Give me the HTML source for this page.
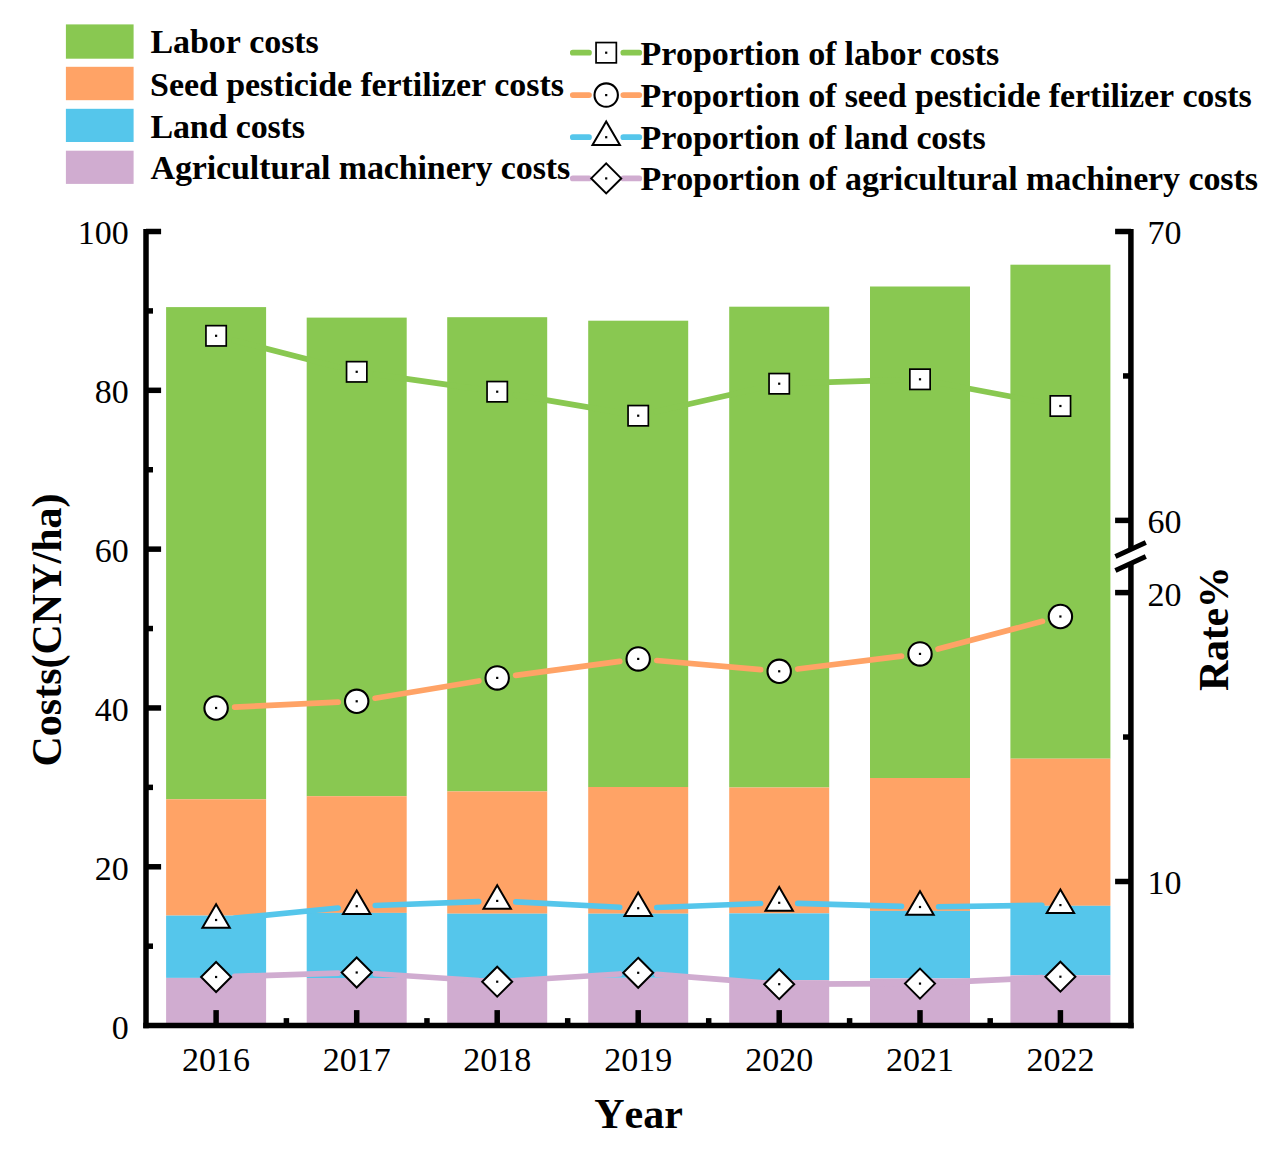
<!DOCTYPE html><html><head><meta charset="utf-8"><style>html,body{margin:0;padding:0;background:#fff;overflow:hidden;}svg{display:block;}text{font-family:"Liberation Serif",serif;font-kerning:none;}</style></head><body>
<svg width="1282" height="1157" viewBox="0 0 1282 1157">
<rect width="1282" height="1157" fill="#fff"/>
<rect x="166.10" y="307.10" width="100" height="492.20" fill="#89C851"/>
<rect x="166.10" y="799.30" width="100" height="116.30" fill="#FFA366"/>
<rect x="166.10" y="915.60" width="100" height="62.30" fill="#55C6EB"/>
<rect x="166.10" y="977.90" width="100" height="47.70" fill="#D0ACD0"/>
<rect x="306.70" y="317.60" width="100" height="478.60" fill="#89C851"/>
<rect x="306.70" y="796.20" width="100" height="116.70" fill="#FFA366"/>
<rect x="306.70" y="912.90" width="100" height="65.10" fill="#55C6EB"/>
<rect x="306.70" y="978.00" width="100" height="47.60" fill="#D0ACD0"/>
<rect x="447.20" y="317.20" width="100" height="474.20" fill="#89C851"/>
<rect x="447.20" y="791.40" width="100" height="122.30" fill="#FFA366"/>
<rect x="447.20" y="913.70" width="100" height="64.30" fill="#55C6EB"/>
<rect x="447.20" y="978.00" width="100" height="47.60" fill="#D0ACD0"/>
<rect x="588.20" y="320.70" width="100" height="466.30" fill="#89C851"/>
<rect x="588.20" y="787.00" width="100" height="126.70" fill="#FFA366"/>
<rect x="588.20" y="913.70" width="100" height="64.10" fill="#55C6EB"/>
<rect x="588.20" y="977.80" width="100" height="47.80" fill="#D0ACD0"/>
<rect x="729.20" y="306.70" width="100" height="480.80" fill="#89C851"/>
<rect x="729.20" y="787.50" width="100" height="125.90" fill="#FFA366"/>
<rect x="729.20" y="913.40" width="100" height="66.70" fill="#55C6EB"/>
<rect x="729.20" y="980.10" width="100" height="45.50" fill="#D0ACD0"/>
<rect x="870.00" y="286.50" width="100" height="491.50" fill="#89C851"/>
<rect x="870.00" y="778.00" width="100" height="132.90" fill="#FFA366"/>
<rect x="870.00" y="910.90" width="100" height="67.50" fill="#55C6EB"/>
<rect x="870.00" y="978.40" width="100" height="47.20" fill="#D0ACD0"/>
<rect x="1010.40" y="264.70" width="100" height="494.00" fill="#89C851"/>
<rect x="1010.40" y="758.70" width="100" height="147.10" fill="#FFA366"/>
<rect x="1010.40" y="905.80" width="100" height="69.50" fill="#55C6EB"/>
<rect x="1010.40" y="975.30" width="100" height="50.30" fill="#D0ACD0"/>
<path d="M234.12 340.41L338.68 367.19M375.12 374.41L478.78 389.09M515.54 394.82L619.86 412.58M656.34 411.58L761.06 387.82M797.79 383.12L901.41 379.88M938.27 382.77L1042.13 402.53" stroke="#89C851" stroke-width="5.7" stroke-linecap="round" fill="none"/>
<path d="M234.68 707.11L338.12 702.19M375.05 698.24L478.85 680.96M515.63 675.42L619.77 661.38M656.73 660.53L760.67 669.67M797.66 669.02L901.54 656.18M937.97 649.11L1042.43 621.29" stroke="#FFA366" stroke-width="5.7" stroke-linecap="round" fill="none"/>
<path d="M234.61 918.18L338.19 908.02M375.29 905.50L478.61 901.60M515.78 901.86L619.62 907.24M656.79 907.49L760.61 903.51M797.79 903.35L901.41 906.45M938.60 906.75L1041.80 905.35" stroke="#55C6EB" stroke-width="5.7" stroke-linecap="round" fill="none"/>
<path d="M234.69 976.40L338.11 973.10M375.26 973.72L478.64 980.48M515.76 980.53L619.64 973.97M656.74 974.30L760.66 982.70M797.80 984.12L901.40 983.68M938.58 982.69L1041.82 977.61" stroke="#D0ACD0" stroke-width="5.7" stroke-linecap="round" fill="none"/>
<rect x="205.95" y="325.65" width="20.3" height="20.3" fill="#fff" stroke="#000" stroke-width="1.7"/>
<rect x="215.00" y="334.70" width="2.2" height="2.2" fill="#000"/>
<rect x="346.55" y="361.65" width="20.3" height="20.3" fill="#fff" stroke="#000" stroke-width="1.7"/>
<rect x="355.60" y="370.70" width="2.2" height="2.2" fill="#000"/>
<rect x="487.05" y="381.55" width="20.3" height="20.3" fill="#fff" stroke="#000" stroke-width="1.7"/>
<rect x="496.10" y="390.60" width="2.2" height="2.2" fill="#000"/>
<rect x="628.05" y="405.55" width="20.3" height="20.3" fill="#fff" stroke="#000" stroke-width="1.7"/>
<rect x="637.10" y="414.60" width="2.2" height="2.2" fill="#000"/>
<rect x="769.05" y="373.55" width="20.3" height="20.3" fill="#fff" stroke="#000" stroke-width="1.7"/>
<rect x="778.10" y="382.60" width="2.2" height="2.2" fill="#000"/>
<rect x="909.85" y="369.15" width="20.3" height="20.3" fill="#fff" stroke="#000" stroke-width="1.7"/>
<rect x="918.90" y="378.20" width="2.2" height="2.2" fill="#000"/>
<rect x="1050.25" y="395.85" width="20.3" height="20.3" fill="#fff" stroke="#000" stroke-width="1.7"/>
<rect x="1059.30" y="404.90" width="2.2" height="2.2" fill="#000"/>
<circle cx="216.10" cy="708.00" r="11.7" fill="#fff" stroke="#000" stroke-width="2.1"/>
<rect x="215.00" y="706.90" width="2.2" height="2.2" fill="#000"/>
<circle cx="356.70" cy="701.30" r="11.7" fill="#fff" stroke="#000" stroke-width="2.1"/>
<rect x="355.60" y="700.20" width="2.2" height="2.2" fill="#000"/>
<circle cx="497.20" cy="677.90" r="11.7" fill="#fff" stroke="#000" stroke-width="2.1"/>
<rect x="496.10" y="676.80" width="2.2" height="2.2" fill="#000"/>
<circle cx="638.20" cy="658.90" r="11.7" fill="#fff" stroke="#000" stroke-width="2.1"/>
<rect x="637.10" y="657.80" width="2.2" height="2.2" fill="#000"/>
<circle cx="779.20" cy="671.30" r="11.7" fill="#fff" stroke="#000" stroke-width="2.1"/>
<rect x="778.10" y="670.20" width="2.2" height="2.2" fill="#000"/>
<circle cx="920.00" cy="653.90" r="11.7" fill="#fff" stroke="#000" stroke-width="2.1"/>
<rect x="918.90" y="652.80" width="2.2" height="2.2" fill="#000"/>
<circle cx="1060.40" cy="616.50" r="11.7" fill="#fff" stroke="#000" stroke-width="2.1"/>
<rect x="1059.30" y="615.40" width="2.2" height="2.2" fill="#000"/>
<path d="M216.10 904.30L229.80 927.85L202.40 927.85Z" fill="#fff" stroke="#000" stroke-width="2"/>
<rect x="215.00" y="918.90" width="2.2" height="2.2" fill="#000"/>
<path d="M356.70 890.50L370.40 914.05L343.00 914.05Z" fill="#fff" stroke="#000" stroke-width="2"/>
<rect x="355.60" y="905.10" width="2.2" height="2.2" fill="#000"/>
<path d="M497.20 885.20L510.90 908.75L483.50 908.75Z" fill="#fff" stroke="#000" stroke-width="2"/>
<rect x="496.10" y="899.80" width="2.2" height="2.2" fill="#000"/>
<path d="M638.20 892.50L651.90 916.05L624.50 916.05Z" fill="#fff" stroke="#000" stroke-width="2"/>
<rect x="637.10" y="907.10" width="2.2" height="2.2" fill="#000"/>
<path d="M779.20 887.10L792.90 910.65L765.50 910.65Z" fill="#fff" stroke="#000" stroke-width="2"/>
<rect x="778.10" y="901.70" width="2.2" height="2.2" fill="#000"/>
<path d="M920.00 891.30L933.70 914.85L906.30 914.85Z" fill="#fff" stroke="#000" stroke-width="2"/>
<rect x="918.90" y="905.90" width="2.2" height="2.2" fill="#000"/>
<path d="M1060.40 889.40L1074.10 912.95L1046.70 912.95Z" fill="#fff" stroke="#000" stroke-width="2"/>
<rect x="1059.30" y="904.00" width="2.2" height="2.2" fill="#000"/>
<path d="M216.10 962.00L231.10 977.00L216.10 992.00L201.10 977.00Z" fill="#fff" stroke="#000" stroke-width="2"/>
<rect x="215.00" y="975.90" width="2.2" height="2.2" fill="#000"/>
<path d="M356.70 957.50L371.70 972.50L356.70 987.50L341.70 972.50Z" fill="#fff" stroke="#000" stroke-width="2"/>
<rect x="355.60" y="971.40" width="2.2" height="2.2" fill="#000"/>
<path d="M497.20 966.70L512.20 981.70L497.20 996.70L482.20 981.70Z" fill="#fff" stroke="#000" stroke-width="2"/>
<rect x="496.10" y="980.60" width="2.2" height="2.2" fill="#000"/>
<path d="M638.20 957.80L653.20 972.80L638.20 987.80L623.20 972.80Z" fill="#fff" stroke="#000" stroke-width="2"/>
<rect x="637.10" y="971.70" width="2.2" height="2.2" fill="#000"/>
<path d="M779.20 969.20L794.20 984.20L779.20 999.20L764.20 984.20Z" fill="#fff" stroke="#000" stroke-width="2"/>
<rect x="778.10" y="983.10" width="2.2" height="2.2" fill="#000"/>
<path d="M920.00 968.60L935.00 983.60L920.00 998.60L905.00 983.60Z" fill="#fff" stroke="#000" stroke-width="2"/>
<rect x="918.90" y="982.50" width="2.2" height="2.2" fill="#000"/>
<path d="M1060.40 961.70L1075.40 976.70L1060.40 991.70L1045.40 976.70Z" fill="#fff" stroke="#000" stroke-width="2"/>
<rect x="1059.30" y="975.60" width="2.2" height="2.2" fill="#000"/>
<g stroke="#000" stroke-width="5.5" fill="none" stroke-linecap="butt">
<path d="M146.0 229.0V1028.35"/>
<path d="M143.25 1025.6H1133.65"/>
<path d="M1130.9 229.0V550M1130.9 562V1028.35"/>
<path d="M146.0 946.19H153.0"/>
<path d="M146.0 866.78H161.1"/>
<path d="M146.0 787.37H153.0"/>
<path d="M146.0 707.96H161.1"/>
<path d="M146.0 628.55H153.0"/>
<path d="M146.0 549.14H161.1"/>
<path d="M146.0 469.73H153.0"/>
<path d="M146.0 390.32H161.1"/>
<path d="M146.0 310.91H153.0"/>
<path d="M146.0 231.50H161.1"/>
<path d="M1130.9 231.50H1115.1"/>
<path d="M1130.9 375.95H1123.0"/>
<path d="M1130.9 520.40H1115.1"/>
<path d="M1130.9 592.60H1115.1"/>
<path d="M1130.9 737.05H1123.0"/>
<path d="M1130.9 881.50H1115.1"/>
<path d="M216.10 1025.6V1010.1"/>
<path d="M286.40 1025.6V1018.1"/>
<path d="M356.70 1025.6V1010.1"/>
<path d="M426.95 1025.6V1018.1"/>
<path d="M497.20 1025.6V1010.1"/>
<path d="M567.70 1025.6V1018.1"/>
<path d="M638.20 1025.6V1010.1"/>
<path d="M708.70 1025.6V1018.1"/>
<path d="M779.20 1025.6V1010.1"/>
<path d="M849.60 1025.6V1018.1"/>
<path d="M920.00 1025.6V1010.1"/>
<path d="M990.20 1025.6V1018.1"/>
<path d="M1060.40 1025.6V1010.1"/>
<path d="M1115.4 556.5L1145.8 542.6M1115.4 570.5L1145.8 556.5" stroke-width="5"/>
</g>
<g font-size="34" fill="#000">
<text x="128.8" y="1038.50" text-anchor="end">0</text>
<text x="128.8" y="879.68" text-anchor="end">20</text>
<text x="128.8" y="720.86" text-anchor="end">40</text>
<text x="128.8" y="562.04" text-anchor="end">60</text>
<text x="128.8" y="403.22" text-anchor="end">80</text>
<text x="128.8" y="244.40" text-anchor="end">100</text>
<text x="1147.5" y="244.40">70</text>
<text x="1147.5" y="533.30">60</text>
<text x="1147.5" y="605.50">20</text>
<text x="1147.5" y="894.40">10</text>
<text x="216.10" y="1070.7" text-anchor="middle">2016</text>
<text x="356.70" y="1070.7" text-anchor="middle">2017</text>
<text x="497.20" y="1070.7" text-anchor="middle">2018</text>
<text x="638.20" y="1070.7" text-anchor="middle">2019</text>
<text x="779.20" y="1070.7" text-anchor="middle">2020</text>
<text x="920.00" y="1070.7" text-anchor="middle">2021</text>
<text x="1060.40" y="1070.7" text-anchor="middle">2022</text>
</g>
<text x="638.5" y="1127.8" text-anchor="middle" font-size="42" font-weight="bold">Year</text>
<text transform="translate(61.1 630) rotate(-90)" text-anchor="middle" font-size="42" font-weight="bold">Costs(CNY/ha)</text>
<text transform="translate(1227.7 628.6) rotate(-90)" text-anchor="middle" font-size="42" font-weight="bold" textLength="124.6">Rate%</text>
<g font-size="34" font-weight="bold" fill="#000">
<rect x="65.9" y="24.4" width="67.7" height="34.3" fill="#89C851"/>
<text x="150.5" y="53.3" textLength="168.3">Labor costs</text>
<rect x="65.9" y="66.8" width="67.7" height="33.4" fill="#FFA366"/>
<text x="150.1" y="95.5" textLength="413.8">Seed pesticide fertilizer costs</text>
<rect x="65.9" y="108.8" width="67.7" height="33.2" fill="#55C6EB"/>
<text x="150.5" y="137.6" textLength="154.5">Land costs</text>
<rect x="65.9" y="150.7" width="67.7" height="33.2" fill="#D0ACD0"/>
<text x="150.5" y="179.1" textLength="419.7">Agricultural machinery costs</text>
<path d="M572.8 52.7H589M623.3 52.7H639.3" stroke="#89C851" stroke-width="5.7" stroke-linecap="round"/>
<rect x="596.05" y="42.55" width="20.3" height="20.3" fill="#fff" stroke="#000" stroke-width="1.7"/>
<rect x="605.10" y="51.60" width="2.2" height="2.2" fill="#000"/>
<text x="640.5" y="64.9" textLength="358.7">Proportion of labor costs</text>
<path d="M572.8 95.1H589M623.3 95.1H639.3" stroke="#FFA366" stroke-width="5.7" stroke-linecap="round"/>
<circle cx="606.20" cy="95.10" r="11.7" fill="#fff" stroke="#000" stroke-width="2.1"/>
<rect x="605.10" y="94.00" width="2.2" height="2.2" fill="#000"/>
<text x="640.5" y="107.0" textLength="611.3">Proportion of seed pesticide fertilizer costs</text>
<path d="M572.8 137.2H589M623.3 137.2H639.3" stroke="#55C6EB" stroke-width="5.7" stroke-linecap="round"/>
<path d="M606.20 121.50L619.90 145.05L592.50 145.05Z" fill="#fff" stroke="#000" stroke-width="2"/>
<rect x="605.10" y="136.10" width="2.2" height="2.2" fill="#000"/>
<text x="640.5" y="148.7" textLength="345.2">Proportion of land costs</text>
<path d="M572.8 178.4H589M623.3 178.4H639.3" stroke="#D0ACD0" stroke-width="5.7" stroke-linecap="round"/>
<path d="M606.20 163.40L621.20 178.40L606.20 193.40L591.20 178.40Z" fill="#fff" stroke="#000" stroke-width="2"/>
<rect x="605.10" y="177.30" width="2.2" height="2.2" fill="#000"/>
<text x="640.5" y="189.9" textLength="617.4">Proportion of agricultural machinery costs</text>
</g>
</svg></body></html>
